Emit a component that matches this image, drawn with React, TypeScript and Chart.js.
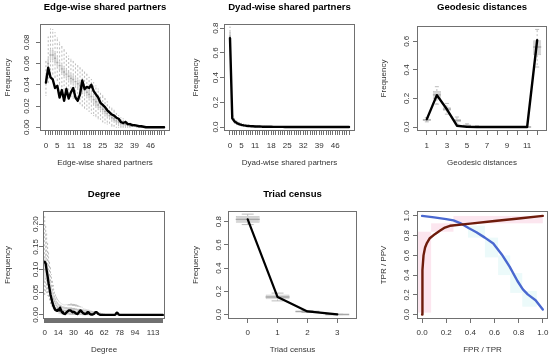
import React, { useEffect, useRef } from "react";
import { Chart, registerables } from "chart.js";

Chart.register(...registerables);

const FONT = "'Liberation Sans', Arial, Helvetica, sans-serif";
const FRAME = "#707070";
const BOX_FILL = "#d6d6d6";
const BOX_EDGE = "#c2c2c2";
const MED_COL = "#a8a8a8";
const WHISK_COL = "#bcbcbc";
const TICK_SIZE = 8;
const LAB_SIZE = 8;
const MAIN_SIZE = 9.6;
const TL = 4;

// ---------------- Edge-wise shared partners ----------------
const espObs = [
  0.042, 0.056, 0.047, 0.045, 0.037, 0.039, 0.028, 0.035, 0.025, 0.036,
  0.027, 0.033, 0.037, 0.028, 0.025, 0.031, 0.044, 0.036, 0.038, 0.037,
  0.040, 0.034, 0.031, 0.028, 0.023, 0.021, 0.019, 0.016, 0.014, 0.012,
  0.011, 0.009, 0.008, 0.005, 0.004, 0.005, 0.003, 0.003, 0.002, 0.002,
  0.0015, 0.001, 0.001, 0.0005, 0, 0, 0, 0, 0, 0, 0, 0, 0,
];
const espCats = espObs.map((_, i) => i); // category = number of shared partners
const espMed = [
  0.045, 0.060, 0.068, 0.068, 0.065, 0.061, 0.058, 0.055, 0.052, 0.050,
  0.048, 0.046, 0.045, 0.043, 0.041, 0.039, 0.037, 0.035, 0.033, 0.031,
  0.029, 0.026, 0.024, 0.021, 0.019, 0.017, 0.015, 0.013, 0.011, 0.009,
  0.008, 0.006, 0.005, 0.004, 0.003, 0.0025, 0.002, 0.0015, 0.001, 0.001,
  0.0005, 0.0005, 0, 0, 0, 0, 0, 0, 0, 0, 0, 0, 0,
];
const espQ1 = [
  0.041, 0.055, 0.063, 0.063, 0.060, 0.057, 0.054, 0.051, 0.048, 0.046,
  0.044, 0.042, 0.041, 0.039, 0.037, 0.035, 0.033, 0.031, 0.029, 0.027,
  0.025, 0.022, 0.020, 0.018, 0.016, 0.014, 0.012, 0.010, 0.009, 0.007,
  0.006, 0.004, 0.003, 0.002, 0.002, 0.001, 0.001, 0.0005, 0, 0,
  0, 0, 0, 0, 0, 0, 0, 0, 0, 0, 0, 0, 0,
];
const espQ3 = [
  0.049, 0.065, 0.073, 0.073, 0.070, 0.066, 0.062, 0.059, 0.056, 0.054,
  0.052, 0.050, 0.049, 0.047, 0.045, 0.043, 0.041, 0.039, 0.037, 0.035,
  0.033, 0.030, 0.028, 0.025, 0.023, 0.020, 0.018, 0.016, 0.014, 0.012,
  0.010, 0.008, 0.007, 0.006, 0.005, 0.004, 0.003, 0.0025, 0.002, 0.0015,
  0.001, 0.001, 0.0005, 0, 0, 0, 0, 0, 0, 0, 0, 0, 0,
];
const espLo = [
  0.030, 0.042, 0.048, 0.050, 0.047, 0.044, 0.040, 0.038, 0.035, 0.033,
  0.031, 0.029, 0.027, 0.025, 0.024, 0.022, 0.020, 0.018, 0.017, 0.015,
  0.013, 0.011, 0.010, 0.008, 0.007, 0.005, 0.004, 0.003, 0.002, 0.001,
  0.001, 0, 0, 0, 0, 0, 0, 0, 0, 0,
  0, 0, 0, 0, 0, 0, 0, 0, 0, 0, 0, 0, 0,
];
const espHi = [
  0.062, 0.085, 0.093, 0.092, 0.089, 0.084, 0.080, 0.076, 0.073, 0.070,
  0.067, 0.064, 0.062, 0.060, 0.058, 0.056, 0.054, 0.052, 0.050, 0.047,
  0.045, 0.042, 0.039, 0.036, 0.033, 0.030, 0.027, 0.024, 0.021, 0.018,
  0.016, 0.013, 0.011, 0.009, 0.008, 0.006, 0.005, 0.004, 0.003, 0.002,
  0.002, 0.001, 0.001, 0.0005, 0, 0, 0, 0, 0, 0, 0, 0, 0,
];
const espXLabels = [0, 5, 11, 18, 25, 32, 39, 46];
const espYTicks = [0, 0.02, 0.04, 0.06, 0.08];

// ---------------- Dyad-wise shared partners ----------------
const dspObs = [
  0.72, 0.07, 0.045, 0.032, 0.024, 0.018, 0.014, 0.011, 0.009, 0.007,
  0.006, 0.005, 0.004, 0.004, 0.003, 0.003, 0.002, 0.002, 0.002, 0.0015,
  0.0015, 0.001, 0.001, 0.001, 0.0008, 0.0006, 0.0005, 0.0004, 0.0003, 0.0002,
  0.0001, 0, 0, 0, 0, 0, 0, 0, 0, 0,
  0, 0, 0, 0, 0, 0, 0, 0, 0, 0, 0, 0, 0,
];
const dspCats = dspObs.map((_, i) => i);
const dspMed = [
  0.735, 0.09, 0.048, 0.032, 0.024, 0.018, 0.014, 0.011, 0.009, 0.007,
  0.006, 0.005, 0.004, 0.0035, 0.003, 0.0025, 0.002, 0.002, 0.0015, 0.0015,
  0.001, 0.001, 0.001, 0.0008, 0.0006, 0.0005, 0.0004, 0.0003, 0.0002, 0.0001,
];
const dspQ1 = [
  0.70, 0.08, 0.041, 0.027, 0.020, 0.015, 0.011, 0.009, 0.007, 0.005,
  0.004, 0.004, 0.003, 0.0025, 0.002, 0.0015, 0.0015, 0.001, 0.001, 0.001,
  0.0005, 0.0005, 0.0005, 0.0004, 0.0003, 0.0002, 0.0002, 0.0001, 0, 0,
];
const dspQ3 = [
  0.77, 0.10, 0.056, 0.038, 0.029, 0.022, 0.017, 0.014, 0.011, 0.009,
  0.008, 0.007, 0.006, 0.005, 0.004, 0.0035, 0.003, 0.003, 0.0025, 0.002,
  0.0015, 0.0015, 0.0015, 0.0012, 0.001, 0.0008, 0.0006, 0.0005, 0.0004, 0.0002,
];
const dspLo = [
  0.66, 0.06, 0.030, 0.019, 0.013, 0.009, 0.006, 0.005, 0.004, 0.003,
  0.002, 0.002, 0.001, 0.001, 0.001, 0.0005, 0.0005, 0.0005, 0, 0,
  0, 0, 0, 0, 0, 0, 0, 0, 0, 0,
];
const dspHi = [
  0.81, 0.12, 0.070, 0.050, 0.038, 0.030, 0.024, 0.020, 0.016, 0.013,
  0.011, 0.010, 0.009, 0.008, 0.007, 0.006, 0.005, 0.0045, 0.004, 0.0035,
  0.003, 0.003, 0.0025, 0.002, 0.002, 0.0015, 0.0012, 0.001, 0.0008, 0.0005,
];
const dspYTicks = [0, 0.2, 0.4, 0.6, 0.8];

// ---------------- Geodesic distances ----------------
const geoCats = [1, 2, 3, 4, 5, 6, 7, 8, 9, 10, 11, 12];
const geoObs = [0.055, 0.223, 0.124, 0.009, 0.001, 0, 0, 0, 0, 0, 0, 0.608];
const geoMed = [0.050, 0.225, 0.125, 0.045, 0.010, 0.002, 0, 0, 0, 0, 0, 0.560];
const geoQ1 = [0.044, 0.196, 0.114, 0.037, 0.006, 0.001, 0, 0, 0, 0, 0, 0.503];
const geoQ3 = [0.058, 0.252, 0.138, 0.054, 0.014, 0.004, 0, 0, 0, 0, 0, 0.608];
const geoLo = [0.036, 0.160, 0.090, 0.020, 0.002, 0, 0, 0, 0, 0, 0, 0.420];
const geoHi = [0.066, 0.282, 0.165, 0.070, 0.022, 0.008, 0.002, 0, 0, 0, 0, 0.683];
const geoXLabels = [1, 3, 5, 7, 9, 11];
const geoYTicks = [0, 0.2, 0.4, 0.6];

// ---------------- Degree ----------------
const degObs = [
  0.117, 0.113, 0.098, 0.085, 0.070, 0.058, 0.045, 0.036, 0.027, 0.020,
  0.015, 0.011, 0.010, 0.009, 0.012, 0.010, 0.016, 0.010, 0.006, 0.004,
  0.003, 0.002, 0.004, 0.006, 0.008, 0.010, 0.010, 0.010, 0.008, 0.006,
  0.007, 0.006, 0.004, 0.003, 0.002, 0.004, 0.007, 0.010, 0.009, 0.006,
  0.004, 0.003, 0.002, 0.003, 0.005, 0.006, 0.005, 0.002, 0.001, 0.001,
  0.001, 0.002, 0.004, 0.006, 0.006, 0.004, 0.002, 0.001, 0, 0,
  0, 0, 0, 0, 0, 0, 0, 0, 0, 0,
  0, 0, 0, 0, 0.002, 0.005, 0.004, 0.001, 0, 0,
  0, 0, 0, 0, 0, 0, 0, 0, 0, 0,
  0, 0, 0, 0, 0, 0, 0, 0, 0, 0,
  0, 0, 0, 0, 0, 0, 0, 0, 0, 0,
  0, 0, 0, 0, 0, 0, 0, 0, 0, 0,
  0, 0, 0, 0,
];
const degCats = degObs.map((_, i) => i); // category = degree
const degMed = [
  0.100, 0.105, 0.100, 0.090, 0.080, 0.070, 0.060, 0.050, 0.042, 0.035,
  0.030, 0.025, 0.021, 0.018, 0.016, 0.014, 0.013, 0.012, 0.011, 0.010,
  0.010, 0.009, 0.009, 0.009, 0.008, 0.008, 0.008, 0.008, 0.008, 0.007,
  0.007, 0.007, 0.007, 0.006, 0.006, 0.006, 0.006, 0.005, 0.005, 0.005,
  0.005, 0.005, 0.004, 0.004, 0.004, 0.004, 0.003, 0.003, 0.003, 0.003,
  0.003, 0.002, 0.002, 0.002, 0.002, 0.002, 0.001, 0.001, 0.001, 0.001,
  0.001, 0, 0, 0,
];
const degQ1 = [
  0.075, 0.082, 0.078, 0.070, 0.062, 0.054, 0.046, 0.038, 0.031, 0.026,
  0.022, 0.018, 0.015, 0.012, 0.011, 0.009, 0.008, 0.007, 0.007, 0.006,
  0.006, 0.005, 0.005, 0.005, 0.004, 0.004, 0.004, 0.004, 0.004, 0.004,
  0.004, 0.004, 0.004, 0.003, 0.003, 0.003, 0.003, 0.002, 0.002, 0.002,
  0.002, 0.002, 0.002, 0.002, 0.002, 0.002, 0.001, 0.001, 0.001, 0.001,
  0.001, 0, 0, 0, 0, 0, 0, 0, 0, 0,
  0, 0, 0, 0,
];
const degQ3 = [
  0.125, 0.130, 0.122, 0.110, 0.098, 0.086, 0.074, 0.062, 0.053, 0.045,
  0.038, 0.032, 0.027, 0.024, 0.021, 0.019, 0.018, 0.017, 0.015, 0.014,
  0.014, 0.013, 0.013, 0.013, 0.012, 0.012, 0.012, 0.012, 0.012, 0.011,
  0.011, 0.011, 0.010, 0.010, 0.009, 0.009, 0.009, 0.008, 0.008, 0.008,
  0.008, 0.007, 0.007, 0.007, 0.006, 0.006, 0.005, 0.005, 0.005, 0.005,
  0.004, 0.004, 0.004, 0.003, 0.003, 0.003, 0.002, 0.002, 0.002, 0.002,
  0.001, 0.001, 0.001, 0,
];
const degLo = [
  0.040, 0.050, 0.048, 0.042, 0.036, 0.030, 0.024, 0.019, 0.015, 0.012,
  0.010, 0.008, 0.006, 0.005, 0.004, 0.003, 0.003, 0.002, 0.002, 0.002,
  0.001, 0.001, 0.001, 0.001, 0.001, 0.001, 0, 0, 0, 0,
  0, 0, 0, 0, 0, 0, 0, 0, 0, 0,
  0, 0, 0, 0, 0, 0, 0, 0, 0, 0,
  0, 0, 0, 0, 0, 0, 0, 0, 0, 0,
  0, 0, 0, 0,
];
const degHi = [
  0.220, 0.200, 0.180, 0.160, 0.140, 0.120, 0.105, 0.090, 0.078, 0.066,
  0.056, 0.048, 0.041, 0.036, 0.032, 0.029, 0.027, 0.025, 0.024, 0.023,
  0.022, 0.022, 0.022, 0.023, 0.023, 0.024, 0.024, 0.025, 0.025, 0.025,
  0.025, 0.024, 0.024, 0.023, 0.022, 0.021, 0.020, 0.019, 0.018, 0.017,
  0.014, 0.013, 0.013, 0.012, 0.012, 0.011, 0.011, 0.010, 0.010, 0.009,
  0.009, 0.008, 0.008, 0.007, 0.007, 0.006, 0.006, 0.005, 0.005, 0.004,
  0.004, 0.003, 0.003, 0.002,
];
const degXLabels = [0, 14, 30, 46, 62, 78, 94, 113];
const degYTicks = [0, 0.05, 0.1, 0.15, 0.2];

// ---------------- Triad census ----------------
const triCats = [0, 1, 2, 3];
const triObs = [0.820, 0.151, 0.027, 0.002];
const triMed = [0.820, 0.152, 0.026, 0.001];
const triQ1 = [0.791, 0.131, 0.022, 0.0005];
const triQ3 = [0.849, 0.172, 0.030, 0.0015];
const triLo = [0.775, 0.118, 0.018, 0];
const triHi = [0.865, 0.185, 0.035, 0.003];
const triYTicks = [0, 0.2, 0.4, 0.6, 0.8];

// ---------------- ROC / PR ----------------
const rocFpr = [0, 0.002, 0.004, 0.012, 0.025, 0.04, 0.064, 0.106, 0.147, 0.189, 0.231, 0.4, 0.6, 0.8, 1.0];
const rocTpr = [0, 0.25, 0.45, 0.6, 0.68, 0.725, 0.774, 0.815, 0.849, 0.882, 0.9, 0.922, 0.948, 0.974, 1.0];
const prTpr = [0, 0.1, 0.2, 0.26, 0.315, 0.385, 0.45, 0.52, 0.59, 0.66, 0.725, 0.79, 0.835, 0.875, 0.94, 1.0];
const prPpv = [1.0, 0.985, 0.968, 0.955, 0.928, 0.877, 0.835, 0.78, 0.72, 0.61, 0.486, 0.34, 0.256, 0.205, 0.145, 0.051];
// faint background spreads: [x0, x1, y0, y1] in data units
const rocSpread = [
  [-0.04, 0.075, 0.02, 0.84],
  [0.075, 0.26, 0.84, 0.925],
  [0.26, 1.0, 0.925, 1.0],
];
const prSpread = [
  [0.38, 0.52, 0.78, 0.9],
  [0.52, 0.63, 0.58, 0.78],
  [0.63, 0.73, 0.4, 0.6],
  [0.73, 0.83, 0.22, 0.42],
  [0.83, 0.95, 0.08, 0.24],
];
const rocTicks = [0, 0.2, 0.4, 0.6, 0.8, 1.0];

// ---------------- helpers ----------------
function boxSets(cats: number[], q1: number[], q3: number[], med: number[], lo: number[], hi: number[]) {
  const bars: any[] = [];
  const wh: any[] = [];
  const st: any[] = [];
  const md: any[] = [];
  for (let i = 0; i < q1.length; i++) {
    const x = cats[i];
    bars.push({ x, y: [q1[i], q3[i]] });
    if (hi[i] > q3[i]) {
      wh.push({ x, y: q3[i] }, { x, y: hi[i] }, { x, y: null });
      st.push({ x: x - 0.2, y: hi[i] }, { x: x + 0.2, y: hi[i] }, { x, y: null });
    }
    if (q1[i] > lo[i]) {
      wh.push({ x, y: q1[i] }, { x, y: lo[i] }, { x, y: null });
      st.push({ x: x - 0.2, y: lo[i] }, { x: x + 0.2, y: lo[i] }, { x, y: null });
    }
    md.push({ x: x - 0.4, y: med[i] }, { x: x + 0.4, y: med[i] }, { x, y: null });
  }
  return [
    { type: "line", data: wh, borderColor: WHISK_COL, borderWidth: 1, borderDash: [2, 2], pointRadius: 0, order: 6 },
    { type: "line", data: st, borderColor: WHISK_COL, borderWidth: 1, pointRadius: 0, order: 5 },
    {
      type: "bar", data: bars, backgroundColor: BOX_FILL, borderColor: BOX_EDGE, borderWidth: 0.8,
      borderSkipped: false, barPercentage: 0.8, categoryPercentage: 1, order: 4,
    },
    { type: "line", data: md, borderColor: MED_COL, borderWidth: 1.4, pointRadius: 0, order: 3 },
  ];
}

function obsLine(cats: number[], obs: number[], color = "#000", width = 2.4) {
  return {
    type: "line", data: cats.map((x, i) => ({ x, y: obs[i] })), borderColor: color, borderWidth: width,
    pointRadius: 0, tension: 0, order: 0, borderJoinStyle: "round", borderCapStyle: "round",
  };
}

type Spec = {
  cell: [number, number, number, number];
  box: [number, number, number, number];
  title?: string;
  titleY?: number;
  xTitle: string;
  yTitle: string;
  yTitleX: number;
  yTickX: number;
  xTickY: number;
  xTitleY: number;
  xRange: [number, number];
  yRange: [number, number];
  xTicks: number[];
  xLabels: number[];
  xDec: number;
  yTicks: number[];
  yDec: number;
  datasets: () => any[];
  rects?: { list: number[][]; color: string }[];
};

const specs: Spec[] = [
  {
    cell: [0, 0, 183, 178], box: [40, 24, 170, 131],
    title: "Edge-wise shared partners", titleY: 7.3,
    xTitle: "Edge-wise shared partners", yTitle: "Frequency",
    yTitleX: 7.3, yTickX: 26.7, xTickY: 145.7, xTitleY: 162.7,
    xRange: [-2.62, 54.62], yRange: [-0.0035, 0.0972],
    xTicks: espCats, xLabels: espXLabels, xDec: 0, yTicks: espYTicks, yDec: 2,
    datasets: () => [...boxSets(espCats, espQ1, espQ3, espMed, espLo, espHi), obsLine(espCats, espObs)],
  },
  {
    cell: [183, 0, 183, 178], box: [224, 24, 355, 131],
    title: "Dyad-wise shared partners", titleY: 7.3,
    xTitle: "Dyad-wise shared partners", yTitle: "Frequency",
    yTitleX: 196, yTickX: 215.5, xTickY: 145.7, xTitleY: 162.7,
    xRange: [-2.62, 54.62], yRange: [-0.032, 0.834],
    xTicks: dspCats, xLabels: espXLabels, xDec: 0, yTicks: dspYTicks, yDec: 1,
    datasets: () => [...boxSets(dspCats, dspQ1, dspQ3, dspMed, dspLo, dspHi), obsLine(dspCats, dspObs)],
  },
  {
    cell: [366, 0, 184, 178], box: [417, 26, 547, 131],
    title: "Geodesic distances", titleY: 7.3,
    xTitle: "Geodesic distances", yTitle: "Frequency",
    yTitleX: 384, yTickX: 406.7, xTickY: 145.7, xTitleY: 162.7,
    xRange: [0.02, 12.98], yRange: [-0.028, 0.707],
    xTicks: geoCats, xLabels: geoXLabels, xDec: 0, yTicks: geoYTicks, yDec: 1,
    datasets: () => [...boxSets(geoCats, geoQ1, geoQ3, geoMed, geoLo, geoHi), obsLine(geoCats, geoObs)],
  },
  {
    cell: [0, 178, 183, 178], box: [43, 211, 165, 319],
    title: "Degree", titleY: 194.7,
    xTitle: "Degree", yTitle: "Frequency",
    yTitleX: 7.3, yTickX: 36, xTickY: 332.3, xTitleY: 349.7,
    xRange: [-1.8, 125.3], yRange: [-0.009, 0.229],
    xTicks: degCats, xLabels: degXLabels, xDec: 0, yTicks: degYTicks, yDec: 2,
    datasets: () => [...boxSets(degCats, degQ1, degQ3, degMed, degLo, degHi), obsLine(degCats, degObs)],
  },
  {
    cell: [183, 178, 183, 178], box: [228, 211, 357, 319],
    title: "Triad census", titleY: 194.7,
    xTitle: "Triad census", yTitle: "Frequency",
    yTitleX: 196, yTickX: 218.3, xTickY: 332.3, xTitleY: 349.7,
    xRange: [-0.66, 3.66], yRange: [-0.038, 0.892],
    xTicks: triCats, xLabels: triCats, xDec: 0, yTicks: triYTicks, yDec: 1,
    datasets: () => [...boxSets(triCats, triQ1, triQ3, triMed, triLo, triHi), obsLine(triCats, triObs, "#000", 2.2)],
  },
  {
    cell: [366, 178, 184, 178], box: [417, 211, 548, 319],
    xTitle: "FPR / TPR", yTitle: "TPR / PPV",
    yTitleX: 383.3, yTickX: 406.7, xTickY: 332.3, xTitleY: 349.7,
    xRange: [-0.042, 1.043], yRange: [-0.045, 1.05],
    xTicks: rocTicks, xLabels: rocTicks, xDec: 1, yTicks: rocTicks, yDec: 1,
    datasets: () => [
      obsLine(prTpr, prPpv, "#4a68d0", 2.4),
      { ...obsLine(rocFpr, rocTpr, "#6e1c0c", 2.4), order: -1 },
    ],
    rects: [
      { list: rocSpread, color: "#fce6ef" },
      { list: prSpread, color: "#ecfafa" },
    ],
  },
];

const measureCtx = typeof document !== "undefined" ? document.createElement("canvas").getContext("2d") : null;
function textWidth(s: string, size: number) {
  if (!measureCtx) return s.length * size * 0.55;
  measureCtx.font = `${size}px ${FONT}`;
  return measureCtx.measureText(s).width;
}

const framePlugin = {
  id: "rframe",
  afterDraw(chart: any) {
    const { ctx, chartArea: a } = chart;
    const L = Math.round(a.left), T = Math.round(a.top), R = Math.round(a.right), B = Math.round(a.bottom);
    ctx.save();
    ctx.strokeStyle = FRAME;
    ctx.lineWidth = 1;
    ctx.strokeRect(L + 0.5, T + 0.5, R - L - 1, B - T - 1);
    ctx.restore();
  },
};

function rectPlugin(rects: { list: number[][]; color: string }[]) {
  return {
    id: "rbg",
    beforeDatasetsDraw(chart: any) {
      const { ctx, chartArea: a, scales } = chart;
      const xs = scales.x, ys = scales.y;
      ctx.save();
      ctx.beginPath();
      ctx.rect(a.left, a.top, a.right - a.left, a.bottom - a.top);
      ctx.clip();
      for (const group of rects) {
        ctx.fillStyle = group.color;
        for (const r of group.list) {
          const x0 = xs.getPixelForValue(r[0]);
          const x1 = xs.getPixelForValue(r[1]);
          const y0 = ys.getPixelForValue(r[2]);
          const y1 = ys.getPixelForValue(r[3]);
          ctx.fillRect(x0, y1, x1 - x0, y0 - y1);
        }
      }
      ctx.restore();
    },
  };
}

function Panel({ spec }: { spec: Spec }) {
  const ref = useRef<HTMLCanvasElement>(null);
  useEffect(() => {
    const [cx, cy, cw, ch] = spec.cell;
    const L = spec.box[0] - cx;
    const T = spec.box[1] - cy;
    const R = spec.box[2] - cx;
    const B = spec.box[3] - cy;
    const fmtY = (v: number) => v.toFixed(spec.yDec);
    const fmtX = (v: number) => v.toFixed(spec.xDec);
    const widest = Math.max(...spec.yTicks.map((v) => textWidth(fmtY(v), TICK_SIZE)));
    const yPad = L - TL - widest / 2 - (spec.yTickX - cx);
    const xPad = spec.xTickY - cy - B - TL - (TICK_SIZE * 1.2) / 2;
    const labHalf = (LAB_SIZE * 1.2) / 2;
    const xTitlePad = ch - (spec.xTitleY - cy) - labHalf;
    const yTitlePad = spec.yTitleX - cx - labHalf;

    let titleOpts: any = { display: false };
    let padTop = T;
    if (spec.title) {
      const mlh = MAIN_SIZE * 1.2;
      const pt = (spec.titleY as number) - cy - mlh / 2;
      const pb = T - pt - mlh;
      titleOpts = {
        display: true, text: spec.title, fullSize: false, color: "#000",
        font: { family: FONT, size: MAIN_SIZE, weight: "bold" },
        padding: { top: pt, bottom: pb },
      };
      padTop = 0;
    }

    const plugins: any[] = [framePlugin];
    if (spec.rects) plugins.push(rectPlugin(spec.rects));

    const chart = new Chart(ref.current as HTMLCanvasElement, {
      type: "line",
      data: { datasets: spec.datasets() as any },
      plugins,
      options: {
        responsive: false,
        animation: false,
        devicePixelRatio: 1,
        events: [],
        layout: { padding: { left: 0, right: cw - R, top: padTop, bottom: 0 } },
        plugins: { legend: { display: false }, tooltip: { enabled: false }, title: titleOpts },
        scales: {
          x: {
            type: "linear",
            min: spec.xRange[0],
            max: spec.xRange[1],
            bounds: "data",
            offset: false,
            afterBuildTicks: (s: any) => {
              s.ticks = spec.xTicks.map((v) => ({ value: v }));
            },
            afterFit: (s: any) => {
              s.height = ch - B;
              s.paddingLeft = 0;
              s.paddingRight = 0;
              s.paddingTop = 0;
              s.paddingBottom = 0;
            },
            grid: { display: true, offset: false, drawOnChartArea: false, drawTicks: true, tickLength: TL, color: FRAME, lineWidth: 1 },
            border: { display: false },
            ticks: {
              autoSkip: false, maxRotation: 0, minRotation: 0, padding: xPad, color: "#333",
              font: { family: FONT, size: TICK_SIZE },
              callback: (v: any) => {
                const n = Number(v);
                return spec.xLabels.some((l) => Math.abs(l - n) < 1e-9) ? fmtX(n) : "";
              },
            },
            title: {
              display: true, text: spec.xTitle, color: "#333",
              font: { family: FONT, size: LAB_SIZE }, padding: { top: 0, bottom: xTitlePad },
            },
          },
          y: {
            type: "linear",
            min: spec.yRange[0],
            max: spec.yRange[1],
            bounds: "data",
            afterBuildTicks: (s: any) => {
              s.ticks = spec.yTicks.map((v) => ({ value: v }));
            },
            afterFit: (s: any) => {
              s.width = L;
              s.paddingLeft = 0;
              s.paddingRight = 0;
              s.paddingTop = 0;
              s.paddingBottom = 0;
            },
            grid: { display: true, drawOnChartArea: false, drawTicks: true, tickLength: TL, color: FRAME, lineWidth: 1 },
            border: { display: false },
            ticks: {
              autoSkip: false, minRotation: 90, maxRotation: 90, crossAlign: "center", padding: yPad, color: "#333",
              font: { family: FONT, size: TICK_SIZE },
              callback: (v: any) => fmtY(Number(v)),
            },
            title: {
              display: true, text: spec.yTitle, color: "#333",
              font: { family: FONT, size: LAB_SIZE }, padding: { top: yTitlePad, bottom: 0 },
            },
          },
        },
      } as any,
    });
    return () => chart.destroy();
  }, [spec]);
  const [cx, cy, cw, ch] = spec.cell;
  return (
    <canvas
      ref={ref}
      width={cw}
      height={ch}
      style={{ position: "absolute", left: cx, top: cy, width: cw, height: ch, display: "block" }}
    />
  );
}

export default function App() {
  return (
    <div style={{ position: "absolute", left: 0, top: 0, width: 550, height: 356, background: "#fff", overflow: "hidden" }}>
      {specs.map((s, i) => (
        <Panel key={i} spec={s} />
      ))}
    </div>
  );
}
